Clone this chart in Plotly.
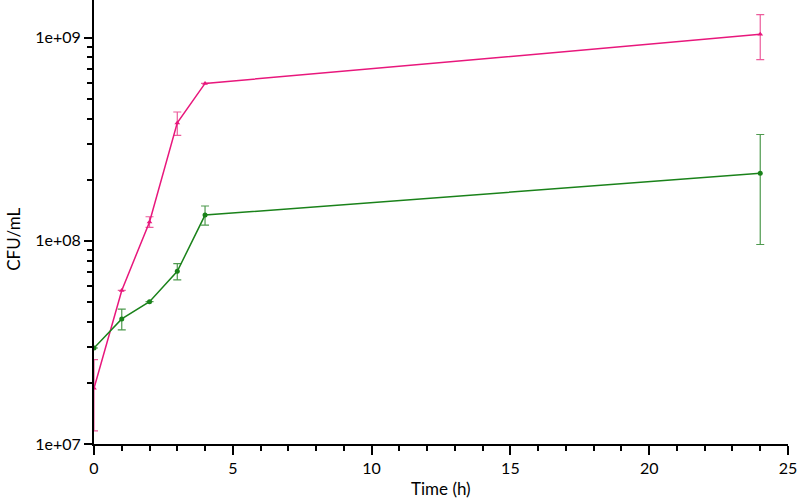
import plotly.graph_objects as go

# Time points (h)
time_h = [0, 1, 2, 3, 4, 24]

# Pink series (triangles)
pink_cfu = [1.88e7, 5.7e7, 1.24e8, 3.81e8, 5.96e8, 1.04e9]
pink_sd = [0.72e7, None, 0.075e8, 0.5e8, None, 2.6e8]

# Green series (circles)
green_cfu = [2.97e7, 4.13e7, 5.02e7, 7.08e7, 1.34e8, 2.15e8]
green_sd = [None, 0.48e7, None, 0.65e7, 0.145e8, 1.19e8]

PINK = '#e8177c'
GREEN = '#1a821a'
FONT = 'Lato'

fig = go.Figure()

fig.add_trace(go.Scatter(
    x=time_h, y=pink_cfu, mode='lines+markers',
    line=dict(color=PINK, width=1.5),
    marker=dict(symbol='triangle-up', size=5, color=PINK),
    error_y=dict(type='data', array=pink_sd, visible=True,
                 color='#ec5c9c', thickness=1.2, width=4),
    showlegend=False,
))

fig.add_trace(go.Scatter(
    x=time_h, y=green_cfu, mode='lines+markers',
    line=dict(color=GREEN, width=1.5),
    marker=dict(symbol='circle', size=5, color=GREEN),
    error_y=dict(type='data', array=green_sd, visible=True,
                 color='#4e9a4e', thickness=1.2, width=4),
    showlegend=False,
))

fig.update_xaxes(
    range=[0, 25], dtick=5, showline=True, linecolor='black', linewidth=2,
    ticks='outside', ticklen=9, tickwidth=2, tickcolor='black',
    minor=dict(dtick=1, ticks='outside', ticklen=5, tickwidth=1.5, tickcolor='black'),
    tickfont=dict(family=FONT, size=16, color='black'),
    ticklabeloverflow='allow',
)

fig.update_yaxes(
    type='log', range=[7, 9.186], dtick=1, showline=True, linecolor='black', linewidth=2,
    tickvals=[1e7, 1e8, 1e9], ticktext=['1e+07', '1e+08', '1e+09'],
    ticks='outside', ticklen=8, tickwidth=2, tickcolor='black',
    minor=dict(dtick='D1', ticks='outside', ticklen=5, tickwidth=1.5, tickcolor='black'),
    tickfont=dict(family=FONT, size=16, color='black'),
)

fig.add_annotation(text='Time (h)', xref='paper', yref='paper', x=0.5, y=0,
                   yshift=-44, yanchor='middle', showarrow=False,
                   font=dict(family=FONT, size=17, color='black'))
fig.add_annotation(text='CFU/mL', xref='paper', yref='paper', x=0, y=0.46,
                   xshift=-80, textangle=-90, xanchor='center', showarrow=False,
                   font=dict(family=FONT, size=17, color='black'))

fig.update_layout(
    template='simple_white',
    width=797, height=500,
    margin=dict(l=94, r=9, t=0, b=56),
)

fig.write_html("out.html", post_script="document.body.style.margin='0';",
               config={'displayModeBar': False})
